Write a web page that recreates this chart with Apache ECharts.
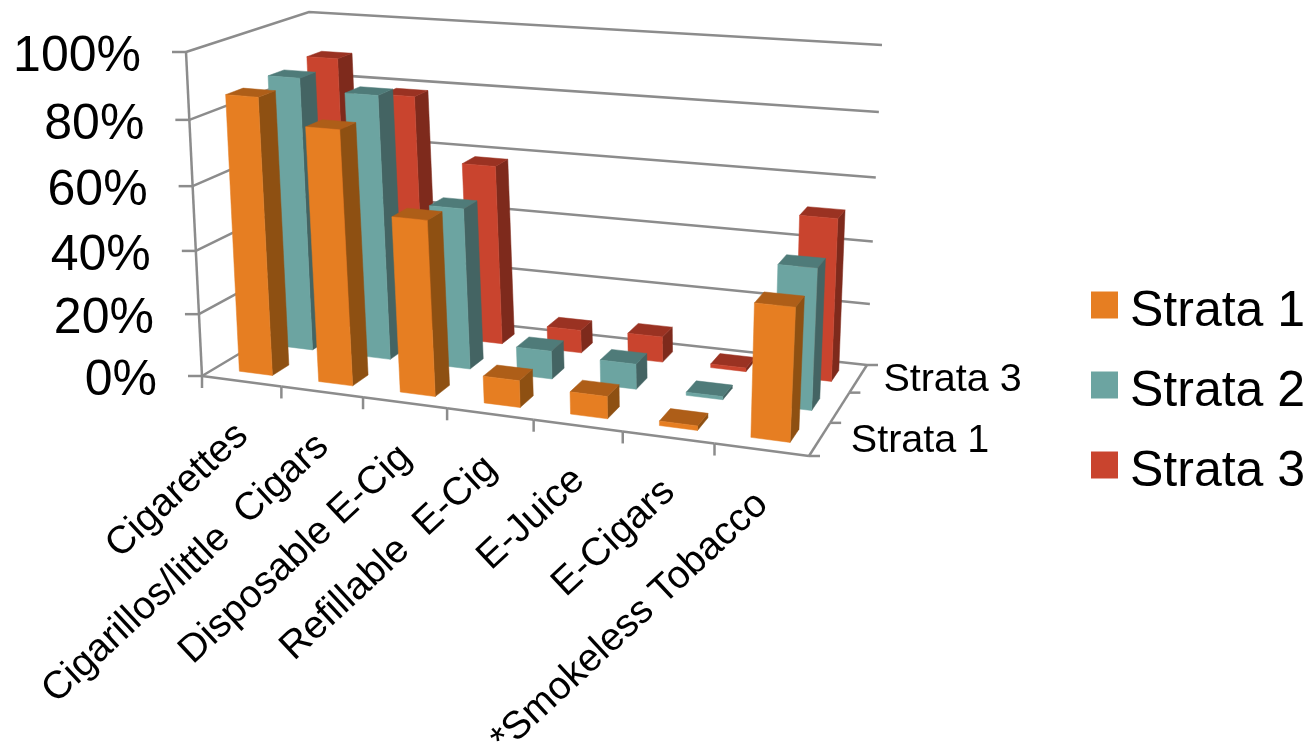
<!DOCTYPE html>
<html>
<head>
<meta charset="utf-8">
<style>
html, body { margin: 0; padding: 0; background: #fff; }
#main { width: 1312px; height: 746px; }
</style>
<script src="https://cdn.jsdelivr.net/npm/echarts@6/dist/echarts.min.js"></script>
</head>
<body>
<div id="main"></div>
<script>
var categories = ["Cigarettes", "Cigarillos/little  Cigars", "Disposable E-Cig", "Refillable  E-Cig", "E-Juice", "E-Cigars", "*Smokeless Tobacco"];
var strata1 = [86.6, 79, 54.4, 8.4, 6.9, 1.4, 40];
var strata2 = [87.5, 84, 51.3, 9, 8, 1, 43.5];
var strata3 = [89, 78.7, 58.5, 7.5, 8.3, 1.2, 51.3];
var yTicks = [0, 20, 40, 60, 80, 100];
var depthLabels = ["Strata 1", "", "Strata 3"];

var FONT = '"Liberation Sans", Arial, sans-serif';
var LINE = "#8c8c8c";

// corners of the 3d box as seen in the picture: front left, front right, back right, back left
var floorQuad = [[202, 376], [809, 456], [867, 365], [321, 305]];
var topQuad = [[186, 52], [827, 101], [882, 45], [309, 12]];

function homography(q) {
    var dx1 = q[1][0] - q[2][0], dx2 = q[3][0] - q[2][0], sx = q[0][0] - q[1][0] + q[2][0] - q[3][0];
    var dy1 = q[1][1] - q[2][1], dy2 = q[3][1] - q[2][1], sy = q[0][1] - q[1][1] + q[2][1] - q[3][1];
    var den = dx1 * dy2 - dx2 * dy1;
    var g = (sx * dy2 - dx2 * sy) / den, h = (dx1 * sy - sx * dy1) / den;
    var a = q[1][0] - q[0][0] + g * q[1][0], b = q[3][0] - q[0][0] + h * q[3][0];
    var d = q[1][1] - q[0][1] + g * q[1][1], e = q[3][1] - q[0][1] + h * q[3][1];
    return function (u, v) {
        var w = g * u + h * v + 1;
        return [(a * u + b * v + q[0][0]) / w, (d * u + e * v + q[0][1]) / w];
    };
}
var floorAt = homography(floorQuad);
var topAt = homography(topQuad);

// u: 0..7 along categories, row: 0..3 in depth, t: 0..1 of the value axis
function project(u, row, t) {
    var s = u / categories.length;
    s = s + 0.045 * s * (1 - s); // picture has a bit less foreshortening than the corners give
    var p = floorAt(s, row / 3);
    var q = topAt(s, row / 3);
    var k = t / (1 + 0.06 * (1 - t)); // ticks get wider towards the top
    return [p[0] + (q[0] - p[0]) * k, p[1] + (q[1] - p[1]) * k];
}
// pixel on the flat helper grid -> position along the box
function gridU(pt, cs) { return (pt[0] - cs.x) / cs.width * categories.length; }
function gridT(pt, cs) { return (cs.y + cs.height - pt[1]) / cs.height; }

function poly(points, color) {
    return {
        type: "polygon",
        shape: { points: points },
        style: { fill: color, stroke: color, lineWidth: 0.5 }
    };
}
function line(points) {
    return {
        type: "polyline",
        shape: { points: points },
        style: { fill: null, stroke: LINE, lineWidth: 2.5 }
    };
}

function barSeries(name, values, row, colors, z) {
    return {
        name: name,
        type: "custom",
        coordinateSystem: "cartesian2d",
        z: z,
        itemStyle: { color: colors[0] },
        data: values.map(function (v, i) { return [i, v]; }),
        renderItem: function (params, api) {
            var cs = params.coordSys;
            var pt = api.coord([api.value(0), api.value(1)]);
            var u = gridU(pt, cs) + 0.02, t = gridT(pt, cs);
            var half = api.size([1, 0])[0] / cs.width * categories.length * 0.21;
            var u0 = u - half, u1 = u + half, r0 = row + 0.3, r1 = row + 0.7;
            return {
                type: "group",
                children: [
                    poly([project(u1, r0, 0), project(u1, r1, 0), project(u1, r1, t), project(u1, r0, t)], colors[2]),
                    poly([project(u0, r0, t), project(u1, r0, t), project(u1, r1, t), project(u0, r1, t)], colors[1]),
                    poly([project(u0, r0, 0), project(u1, r0, 0), project(u1, r0, t), project(u0, r0, t)], colors[0])
                ]
            };
        }
    };
}

var wallSeries = {
    type: "custom",
    coordinateSystem: "cartesian2d",
    z: 1,
    silent: true,
    data: yTicks.map(function (v) { return [0, v]; }),
    renderItem: function (params, api) {
        var v = api.value(1);
        var t = gridT(api.coord([0, v]), params.coordSys);
        var a = project(0, 0, t), b = project(0, 3, t), c = project(7, 3, t);
        var kids = [
            line([a, b, c]),
            line([[a[0] - 14, a[1]], a]),
            {
                type: "text",
                x: a[0] - 45,
                y: a[1] + 5,
                style: { text: v + "%", align: "right", verticalAlign: "middle", fontSize: 50, fontFamily: FONT, fill: "#000" }
            }
        ];
        if (params.dataIndex < yTicks.length - 1) {
            var nt = yTicks[params.dataIndex + 1] / 100;
            kids.push(line([a, project(0, 0, nt)]));
        }
        return { type: "group", children: kids };
    }
};

var categorySeries = {
    type: "custom",
    coordinateSystem: "cartesian2d",
    z: 1,
    silent: true,
    data: categories.map(function (c, i) { return [i, 0]; }),
    renderItem: function (params, api) {
        var i = api.value(0);
        var mid = gridU(api.coord([i, 0]), params.coordSys);
        var a = project(mid - 0.5, 0, 0), b = project(mid + 0.5, 0, 0), m = project(mid, 0, 0);
        var kids = [
            line([a, b]),
            line([a, [a[0], a[1] + 12]]),
            {
                type: "text",
                x: m[0] + 1,
                y: m[1] + 49,
                rotation: 43 * Math.PI / 180,
                style: { text: categories[i], align: "right", verticalAlign: "middle", fontSize: 39, fontFamily: FONT, fill: "#000" }
            }
        ];
        return { type: "group", children: kids };
    }
};

var depthSeries = {
    type: "custom",
    coordinateSystem: "cartesian2d",
    z: 1,
    silent: true,
    data: depthLabels.map(function (s, i) { return [6, i]; }),
    renderItem: function (params) {
        var r = params.dataIndex;
        var a = project(7, r, 0), b = project(7, r + 1, 0), m = project(7, r + 0.5, 0);
        var kids = [
            line([a, b]),
            line([a, [a[0] + 11, a[1]]])
        ];
        if (r === 2) kids.push(line([b, [b[0] + 11, b[1]]]));
        if (depthLabels[r]) {
            kids.push({
                type: "text",
                x: m[0] + 31 - r * 3,
                y: m[1] + 2,
                style: { text: depthLabels[r], align: "left", verticalAlign: "middle", fontSize: 39.5, fontFamily: FONT, fill: "#000" }
            });
        }
        return { type: "group", children: kids };
    }
};

var myChart = echarts.init(document.getElementById("main"));
var option = {
    animation: false,
    backgroundColor: "#fff",
    tooltip: { show: false },
    // flat helper grid: the value and category scales; renderItem folds it into the box
    grid: { left: 186, top: 52, width: 623, height: 324 },
    xAxis: { type: "category", data: categories, show: false },
    yAxis: { type: "value", min: 0, max: 100, interval: 20, show: false },
    legend: {
        data: ["Strata 1", "Strata 2", "Strata 3"],
        orient: "vertical",
        left: 1091,
        top: 273,
        padding: 0,
        icon: "rect",
        itemWidth: 27,
        itemHeight: 27,
        itemGap: 16,
        selectedMode: false,
        formatter: "{t|{name}}",
        textStyle: {
            rich: {
                t: { fontSize: 50, fontFamily: FONT, color: "#000", lineHeight: 66, padding: [14, 0, 0, 7] }
            }
        }
    },
    series: [
        wallSeries,
        categorySeries,
        depthSeries,
        barSeries("Strata 3", strata3, 2, ["#c9442e", "#9a3222", "#7e2a1c"], 2),
        barSeries("Strata 2", strata2, 1, ["#6ca4a1", "#4f7b79", "#446463"], 3),
        barSeries("Strata 1", strata1, 0, ["#e67e22", "#ae5e18", "#8e5012"], 4)
    ]
};
myChart.setOption(option);
</script>
</body>
</html>
